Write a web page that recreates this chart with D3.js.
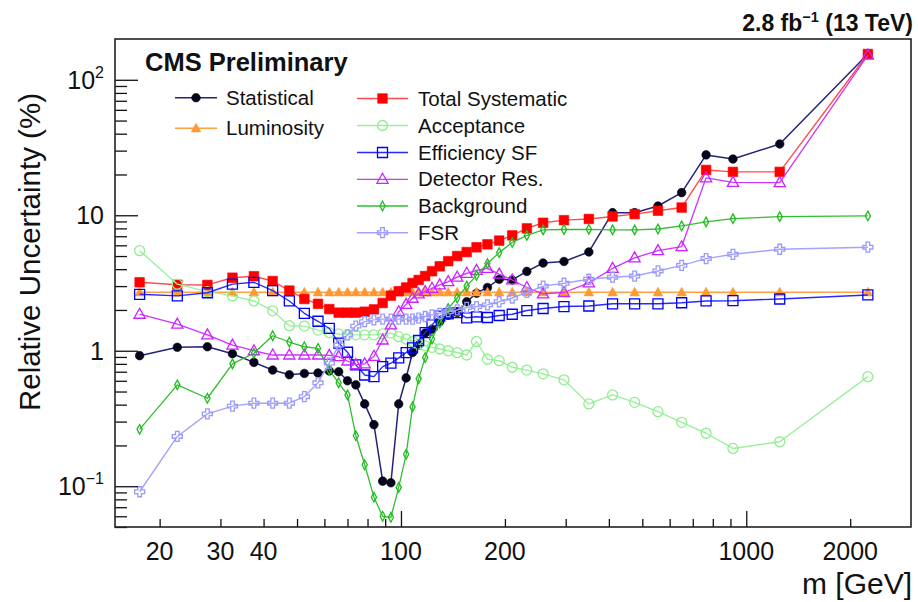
<!DOCTYPE html>
<html>
<head>
<meta charset="utf-8">
<script src="https://cdnjs.cloudflare.com/ajax/libs/d3/7.8.5/d3.min.js"></script>
<style>
  html, body { margin: 0; padding: 0; background: #fff; }
  svg { display: block; font-family: "Liberation Sans", Arial, Helvetica, sans-serif; }
</style>
</head>
<body>
<svg id="chart" width="918" height="602"></svg>
<script>
// Dimuon mass bin centres [GeV]
const mass = [17.5, 22.5, 27.5, 32.5, 37.5, 42.5, 47.5, 52.5, 57.5, 62, 66, 70, 74, 78.5,
  83.5, 88.5, 93.5, 98.5, 103.5, 108, 112.5, 117.5, 123, 129.5, 137, 145.5, 155, 165.5,
  178, 192.5, 210, 231.5, 258, 296.5, 350, 410, 475, 555, 650, 765, 915, 1250, 2250];

// Relative uncertainties [%] per bin
const statistical = [0.92, 1.06, 1.07, 0.95, 0.82, 0.72, 0.665, 0.68, 0.685, 0.71, 0.70, 0.60,
  0.56, 0.405, 0.285, 0.109, 0.106, 0.405, 0.63, 0.97, 1.10, 1.35, 1.44, 1.64, 1.83, 1.92,
  2.30, 2.66, 2.93, 3.37, 3.33, 3.85, 4.44, 4.56, 5.36, 10.45, 10.45, 11.7, 14.7, 27.9,
  26.0, 33.6, 155];
const luminosity = [2.7, 2.7, 2.7, 2.7, 2.7, 2.7, 2.7, 2.7, 2.7, 2.7, 2.7, 2.7, 2.7, 2.7,
  2.7, 2.7, 2.7, 2.7, 2.7, 2.7, 2.7, 2.7, 2.7, 2.7, 2.7, 2.7, 2.7, 2.7, 2.7, 2.7, 2.7,
  2.7, 2.7, 2.7, 2.7, 2.7, 2.7, 2.7, 2.7, 2.7, 2.7, 2.7, 2.7];
const totalSystematic = [3.20, 3.07, 3.06, 3.46, 3.55, 3.27, 2.78, 2.41, 2.22, 2.03, 1.91,
  1.91, 1.91, 1.94, 2.02, 2.25, 2.55, 2.75, 2.93, 3.16, 3.33, 3.56, 3.86, 4.2, 4.58, 5.0,
  5.35, 5.8, 6.1, 6.5, 7.1, 8.0, 8.8, 9.2, 9.39, 9.8, 10.2, 10.8, 11.4, 21.6, 20.9, 20.9, 155];
const acceptance = [5.48, 3.1, 2.73, 2.54, 2.33, 1.97, 1.53, 1.52, 1.42, 1.36, 1.33, 1.31,
  1.31, 1.31, 1.31, 1.33, 1.35, 1.27, 1.22, 1.17, 1.12, 1.09, 1.06, 1.03, 1.0, 0.97, 0.93,
  1.17, 0.865, 0.845, 0.755, 0.72, 0.675, 0.61, 0.405, 0.472, 0.416, 0.355, 0.296, 0.246,
  0.19, 0.213, 0.644];
const efficiencySF = [2.61, 2.54, 2.68, 3.10, 3.20, 2.78, 2.33, 1.89, 1.65, 1.46, 1.14, 0.975,
  0.786, 0.662, 0.644, 0.763, 0.809, 0.885, 0.97, 1.05, 1.19, 1.36, 1.55, 1.80, 1.87, 1.91,
  1.75, 1.78, 1.76, 1.82, 1.86, 1.98, 2.05, 2.12, 2.14, 2.22, 2.22, 2.22, 2.26, 2.33, 2.34,
  2.41, 2.58];
const detectorRes = [1.86, 1.57, 1.31, 1.10, 1.00, 0.93, 0.93, 0.93, 0.93, 0.925, 0.905, 0.84,
  0.79, 0.80, 0.91, 1.20, 1.55, 1.94, 2.2, 2.44, 2.63, 2.73, 2.89, 3.06, 3.24, 3.49, 3.73,
  3.92, 4.05, 3.68, 3.33, 2.93, 2.63, 2.69, 3.17, 4.05, 4.85, 5.48, 5.86, 18.9, 17.5, 17.4, 152];
const background = [0.263, 0.56, 0.446, 0.80, 0.958, 1.29, 1.16, 1.07, 1.04, 0.72, 0.58, 0.472,
  0.236, 0.144, 0.083, 0.060, 0.059, 0.098, 0.172, 0.385, 0.62, 0.89, 1.22, 1.60, 2.05, 2.45,
  3.0, 3.6, 4.4, 5.3, 6.3, 7.1, 7.8, 7.85, 7.88, 7.8, 7.8, 7.92, 8.34, 8.93, 9.44, 9.77, 9.89];
const fsr = [0.091, 0.233, 0.342, 0.39, 0.41, 0.41, 0.41, 0.458, 0.58, 0.81, 1.10, 1.31, 1.52,
  1.64, 1.69, 1.71, 1.71, 1.71, 1.71, 1.71, 1.74, 1.79, 1.84, 1.89, 1.94, 2.0, 2.09, 2.12,
  2.18, 2.3, 2.45, 2.7, 3.0, 3.15, 3.37, 3.49, 3.56, 3.88, 4.27, 4.79, 5.15, 5.61, 5.81];

// Axis ticks
const xMajorTicks = [100, 1000];
const xMinorTicks = [20, 30, 40, 50, 60, 70, 80, 90, 200, 300, 400, 500, 600, 700, 800, 900, 2000];
const xTickLabels = [20, 30, 40, 100, 200, 1000, 2000];
const yMajorTicks = [0.1, 1, 10, 100];
const yMinorTicks = [0.05, 0.06, 0.07, 0.08, 0.09, 0.2, 0.3, 0.4, 0.5, 0.6, 0.7, 0.8, 0.9,
  2, 3, 4, 5, 6, 7, 8, 9, 20, 30, 40, 50, 60, 70, 80, 90];
const yTickLabels = [{v: 0.1, base: "10", exp: "\u22121"}, {v: 1, base: "1", exp: ""},
  {v: 10, base: "10", exp: ""}, {v: 100, base: "10", exp: "2"}];

const svg = d3.select("#chart");
const frame = {left: 115, right: 911, top: 39, bottom: 527};

const x = d3.scaleLog().domain([15, 3000]).range([116.5, 911]);
const y = d3.scaleLog().domain([0.05, 200]).range([frame.bottom, frame.top]);

// Series styling
const series = [
  {name: "Statistical", values: statistical, line: "#23237a", fill: "#05051a", marker: "circleFilled", lw: 1.5},
  {name: "Luminosity", values: luminosity, line: "#ffa047", fill: "#ff9933", marker: "triFilled", lw: 1.6},
  {name: "Total Systematic", values: totalSystematic, line: "#ff4d4d", fill: "#ff0000", marker: "squareFilled", lw: 1.4},
  {name: "Acceptance", values: acceptance, line: "#9cf09c", fill: "#8fee8f", marker: "circleOpen", lw: 1.4},
  {name: "Efficiency SF", values: efficiencySF, line: "#2a2aff", fill: "#0000ff", marker: "squareOpen", lw: 1.4},
  {name: "Detector Res.", values: detectorRes, line: "#cc33ff", fill: "#cc22ff", marker: "triOpen", lw: 1.3},
  {name: "Background", values: background, line: "#2fbf2f", fill: "#22bb22", marker: "diamondOpen", lw: 1.3},
  {name: "FSR", values: fsr, line: "#a3a3ff", fill: "#9999ff", marker: "crossOpen", lw: 1.4}
];

function markerPath(type) {
  switch (type) {
    case "circleFilled": return {d: "M-4.3,0a4.3,4.3 0 1,0 8.6,0a4.3,4.3 0 1,0 -8.6,0", filled: true};
    case "circleOpen": return {d: "M-5,0a5,5 0 1,0 10,0a5,5 0 1,0 -10,0", filled: false};
    case "squareFilled": return {d: "M-4.8,-4.8H4.8V4.8H-4.8Z", filled: true};
    case "squareOpen": return {d: "M-5,-5H5V5H-5Z", filled: false};
    case "triFilled": return {d: "M0,-5L4.8,3.6H-4.8Z", filled: true};
    case "triOpen": return {d: "M0,-6L5.6,4H-5.6Z", filled: false};
    case "diamondOpen": return {d: "M0,-4.8L2.6,0L0,4.8L-2.6,0Z", filled: false};
    case "crossOpen": return {d: "M-1.8,-5H1.8V-1.8H5V1.8H1.8V5H-1.8V1.8H-5V-1.8H-1.8Z", filled: false};
  }
}

function drawMarker(g, s, cx, cy) {
  const m = markerPath(s.marker);
  g.append("path")
    .attr("d", m.d)
    .attr("transform", `translate(${cx},${cy})`)
    .attr("fill", m.filled ? s.fill : "none")
    .attr("stroke", s.fill)
    .attr("stroke-width", m.filled ? 0.6 : 1.3);
}

// Plot area clip
svg.append("defs").append("clipPath").attr("id", "plotClip")
  .append("rect").attr("x", frame.left).attr("y", frame.top)
  .attr("width", frame.right - frame.left).attr("height", frame.bottom - frame.top);

const plot = svg.append("g").attr("clip-path", "url(#plotClip)");
const line = d3.line().x(d => x(d[0])).y(d => y(d[1]));

series.forEach(s => {
  const pts = mass.map((m, i) => [m, s.values[i]]);
  const g = plot.append("g").attr("class", "series");
  g.append("path").datum(pts)
    .attr("d", line)
    .attr("fill", "none")
    .attr("stroke", s.line)
    .attr("stroke-width", s.lw)
    .attr("stroke-linejoin", "round");
  pts.forEach(p => drawMarker(g, s, x(p[0]), y(p[1])));
});

// Axes (ticks pointing into the frame)
const axisG = svg.append("g");
const xMajor = d3.axisBottom(x).tickValues(xMajorTicks).tickSize(-16).tickFormat("");
const xMinor = d3.axisBottom(x).tickValues(xMinorTicks).tickSize(-8).tickFormat("");
axisG.append("g").attr("transform", `translate(0,${frame.bottom})`).call(xMajor);
axisG.append("g").attr("transform", `translate(0,${frame.bottom})`).call(xMinor);

const yMajor = d3.axisLeft(y).tickValues(yMajorTicks).tickSize(-23).tickFormat("");
const yMinor = d3.axisLeft(y).tickValues(yMinorTicks).tickSize(-12).tickFormat("");
axisG.append("g").attr("transform", `translate(${frame.left},0)`).call(yMajor);
axisG.append("g").attr("transform", `translate(${frame.left},0)`).call(yMinor);
axisG.selectAll(".domain").remove();
axisG.selectAll(".tick line").attr("stroke", "#111").attr("stroke-width", 1.3);

// Frame
svg.append("rect")
  .attr("x", frame.left).attr("y", frame.top)
  .attr("width", frame.right - frame.left).attr("height", frame.bottom - frame.top)
  .attr("fill", "none").attr("stroke", "#222").attr("stroke-width", 1.6);

// X tick labels
svg.append("g").selectAll("text").data(xTickLabels).join("text")
  .attr("x", d => x(d)).attr("y", 560)
  .attr("text-anchor", "middle")
  .attr("font-size", 25).attr("fill", "#111")
  .text(d => d);

// Y tick labels
const yl = svg.append("g").selectAll("text").data(yTickLabels).join("text")
  .attr("x", 104).attr("y", d => y(d.v) + 9)
  .attr("text-anchor", "end")
  .attr("font-size", 25).attr("fill", "#111");
yl.append("tspan").text(d => d.base);
yl.filter(d => d.exp).append("tspan")
  .attr("font-size", 16).attr("dy", -11).text(d => d.exp);

// Axis titles
svg.append("text")
  .attr("transform", "translate(40,93) rotate(-90)")
  .attr("text-anchor", "end")
  .attr("font-size", 29.5).attr("fill", "#111")
  .text("Relative Uncertainty (%)");
svg.append("text")
  .attr("x", 912).attr("y", 594)
  .attr("text-anchor", "end")
  .attr("font-size", 30).attr("fill", "#111")
  .text("m [GeV]");

// Headers
svg.append("text")
  .attr("x", 145).attr("y", 70.5)
  .attr("font-size", 25.5).attr("font-weight", "bold").attr("fill", "#111")
  .text("CMS Preliminary");
const lumi = svg.append("text")
  .attr("x", 913).attr("y", 31)
  .attr("text-anchor", "end")
  .attr("font-size", 23).attr("font-weight", "bold").attr("fill", "#111");
lumi.append("tspan").text("2.8 fb");
lumi.append("tspan").attr("font-size", 14.5).attr("dy", -9).text("\u22121");
lumi.append("tspan").attr("dy", 9).text(" (13 TeV)");

// Legend
const legendRows = [
  {s: series[0], lx: 175, tx: 226, cy: 97.7},
  {s: series[1], lx: 175, tx: 226, cy: 128.3},
  {s: series[2], lx: 357, tx: 418, cy: 98.5},
  {s: series[3], lx: 357, tx: 418, cy: 125.5},
  {s: series[4], lx: 357, tx: 418, cy: 152.5},
  {s: series[5], lx: 357, tx: 418, cy: 179.3},
  {s: series[6], lx: 357, tx: 418, cy: 206},
  {s: series[7], lx: 357, tx: 418, cy: 232.7}
];
const lg = svg.append("g");
legendRows.forEach(r => {
  const w = r.lx === 175 ? 42 : 51;
  lg.append("line")
    .attr("x1", r.lx).attr("x2", r.lx + w).attr("y1", r.cy).attr("y2", r.cy)
    .attr("stroke", r.s.line).attr("stroke-width", r.s.lw);
  drawMarker(lg, r.s, r.lx + w / 2, r.cy);
  lg.append("text")
    .attr("x", r.tx).attr("y", r.cy + 7)
    .attr("font-size", 20.5).attr("fill", "#111")
    .text(r.s.name);
});
</script>
</body>
</html>
